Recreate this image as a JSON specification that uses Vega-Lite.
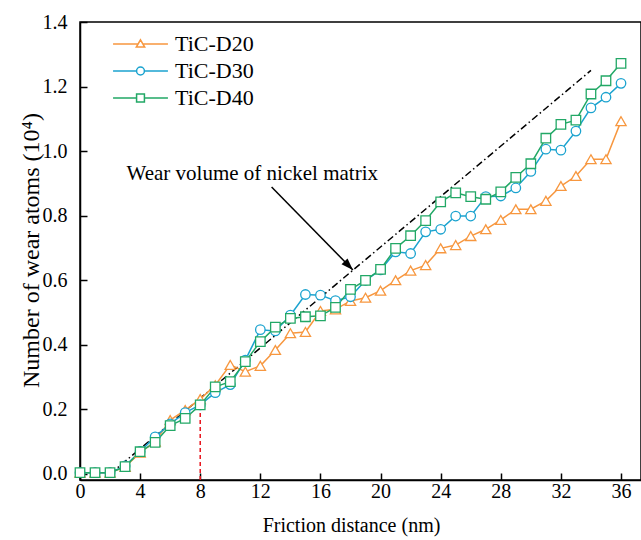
{
  "$schema": "https://vega.github.io/schema/vega-lite/v6.json",
  "width": 561,
  "height": 458,
  "autosize": "none",
  "padding": {"left": 80, "top": 22, "right": 0, "bottom": 60},
  "background": "white",
  "config": {
    "font": "Liberation Serif",
    "view": {"stroke": "black", "strokeWidth": 1.5},
    "axis": {
      "grid": false,
      "domainColor": "black",
      "domainWidth": 1.5,
      "tickColor": "black",
      "tickWidth": 1.5,
      "tickSize": -7,
      "labelColor": "black",
      "labelFontSize": 20,
      "labelFlush": false,
      "labelFont": "Liberation Serif",
      "titleFont": "Liberation Serif",
      "titleFontWeight": "normal",
      "titleColor": "black"
    }
  },
  "datasets": {
    "wear": [
      {"x": 0, "v": 0.004, "series": "TiC-D20"}, {"x": 1, "v": 0.004, "series": "TiC-D20"}, {"x": 2, "v": 0.004, "series": "TiC-D20"},
      {"x": 3, "v": 0.022, "series": "TiC-D20"}, {"x": 4, "v": 0.066, "series": "TiC-D20"}, {"x": 5, "v": 0.1, "series": "TiC-D20"},
      {"x": 6, "v": 0.167, "series": "TiC-D20"}, {"x": 7, "v": 0.198, "series": "TiC-D20"}, {"x": 8, "v": 0.232, "series": "TiC-D20"},
      {"x": 9, "v": 0.275, "series": "TiC-D20"}, {"x": 10, "v": 0.338, "series": "TiC-D20"}, {"x": 11, "v": 0.317, "series": "TiC-D20"},
      {"x": 12, "v": 0.335, "series": "TiC-D20"}, {"x": 13, "v": 0.384, "series": "TiC-D20"}, {"x": 14, "v": 0.436, "series": "TiC-D20"},
      {"x": 15, "v": 0.44, "series": "TiC-D20"}, {"x": 16, "v": 0.505, "series": "TiC-D20"}, {"x": 17, "v": 0.51, "series": "TiC-D20"},
      {"x": 18, "v": 0.536, "series": "TiC-D20"}, {"x": 19, "v": 0.546, "series": "TiC-D20"}, {"x": 20, "v": 0.568, "series": "TiC-D20"},
      {"x": 21, "v": 0.6, "series": "TiC-D20"}, {"x": 22, "v": 0.63, "series": "TiC-D20"}, {"x": 23, "v": 0.647, "series": "TiC-D20"},
      {"x": 24, "v": 0.699, "series": "TiC-D20"}, {"x": 25, "v": 0.709, "series": "TiC-D20"}, {"x": 26, "v": 0.737, "series": "TiC-D20"},
      {"x": 27, "v": 0.758, "series": "TiC-D20"}, {"x": 28, "v": 0.787, "series": "TiC-D20"}, {"x": 29, "v": 0.82, "series": "TiC-D20"},
      {"x": 30, "v": 0.82, "series": "TiC-D20"}, {"x": 31, "v": 0.846, "series": "TiC-D20"}, {"x": 32, "v": 0.892, "series": "TiC-D20"},
      {"x": 33, "v": 0.923, "series": "TiC-D20"}, {"x": 34, "v": 0.975, "series": "TiC-D20"}, {"x": 35, "v": 0.975, "series": "TiC-D20"},
      {"x": 36, "v": 1.093, "series": "TiC-D20"},
      {"x": 0, "v": 0.004, "series": "TiC-D30"}, {"x": 1, "v": 0.004, "series": "TiC-D30"}, {"x": 2, "v": 0.004, "series": "TiC-D30"},
      {"x": 3, "v": 0.025, "series": "TiC-D30"}, {"x": 4, "v": 0.07, "series": "TiC-D30"}, {"x": 5, "v": 0.115, "series": "TiC-D30"},
      {"x": 6, "v": 0.155, "series": "TiC-D30"}, {"x": 7, "v": 0.19, "series": "TiC-D30"}, {"x": 8, "v": 0.214, "series": "TiC-D30"},
      {"x": 9, "v": 0.252, "series": "TiC-D30"}, {"x": 10, "v": 0.277, "series": "TiC-D30"}, {"x": 11, "v": 0.353, "series": "TiC-D30"},
      {"x": 12, "v": 0.447, "series": "TiC-D30"}, {"x": 13, "v": 0.443, "series": "TiC-D30"}, {"x": 14, "v": 0.492, "series": "TiC-D30"},
      {"x": 15, "v": 0.556, "series": "TiC-D30"}, {"x": 16, "v": 0.554, "series": "TiC-D30"}, {"x": 17, "v": 0.537, "series": "TiC-D30"},
      {"x": 18, "v": 0.549, "series": "TiC-D30"}, {"x": 19, "v": 0.6, "series": "TiC-D30"}, {"x": 20, "v": 0.632, "series": "TiC-D30"},
      {"x": 21, "v": 0.688, "series": "TiC-D30"}, {"x": 22, "v": 0.683, "series": "TiC-D30"}, {"x": 23, "v": 0.75, "series": "TiC-D30"},
      {"x": 24, "v": 0.758, "series": "TiC-D30"}, {"x": 25, "v": 0.799, "series": "TiC-D30"}, {"x": 26, "v": 0.799, "series": "TiC-D30"},
      {"x": 27, "v": 0.859, "series": "TiC-D30"}, {"x": 28, "v": 0.861, "series": "TiC-D30"}, {"x": 29, "v": 0.886, "series": "TiC-D30"},
      {"x": 30, "v": 0.937, "series": "TiC-D30"}, {"x": 31, "v": 1.006, "series": "TiC-D30"}, {"x": 32, "v": 1.003, "series": "TiC-D30"},
      {"x": 33, "v": 1.062, "series": "TiC-D30"}, {"x": 34, "v": 1.134, "series": "TiC-D30"}, {"x": 35, "v": 1.167, "series": "TiC-D30"},
      {"x": 36, "v": 1.21, "series": "TiC-D30"},
      {"x": 0, "v": 0.004, "series": "TiC-D40"}, {"x": 1, "v": 0.004, "series": "TiC-D40"}, {"x": 2, "v": 0.004, "series": "TiC-D40"},
      {"x": 3, "v": 0.023, "series": "TiC-D40"}, {"x": 4, "v": 0.069, "series": "TiC-D40"}, {"x": 5, "v": 0.098, "series": "TiC-D40"},
      {"x": 6, "v": 0.15, "series": "TiC-D40"}, {"x": 7, "v": 0.172, "series": "TiC-D40"}, {"x": 8, "v": 0.214, "series": "TiC-D40"},
      {"x": 9, "v": 0.27, "series": "TiC-D40"}, {"x": 10, "v": 0.286, "series": "TiC-D40"}, {"x": 11, "v": 0.348, "series": "TiC-D40"},
      {"x": 12, "v": 0.41, "series": "TiC-D40"}, {"x": 13, "v": 0.455, "series": "TiC-D40"}, {"x": 14, "v": 0.482, "series": "TiC-D40"},
      {"x": 15, "v": 0.487, "series": "TiC-D40"}, {"x": 16, "v": 0.49, "series": "TiC-D40"}, {"x": 17, "v": 0.516, "series": "TiC-D40"},
      {"x": 18, "v": 0.572, "series": "TiC-D40"}, {"x": 19, "v": 0.6, "series": "TiC-D40"}, {"x": 20, "v": 0.634, "series": "TiC-D40"},
      {"x": 21, "v": 0.699, "series": "TiC-D40"}, {"x": 22, "v": 0.738, "series": "TiC-D40"}, {"x": 23, "v": 0.785, "series": "TiC-D40"},
      {"x": 24, "v": 0.843, "series": "TiC-D40"}, {"x": 25, "v": 0.871, "series": "TiC-D40"}, {"x": 26, "v": 0.859, "series": "TiC-D40"},
      {"x": 27, "v": 0.851, "series": "TiC-D40"}, {"x": 28, "v": 0.874, "series": "TiC-D40"}, {"x": 29, "v": 0.919, "series": "TiC-D40"},
      {"x": 30, "v": 0.961, "series": "TiC-D40"}, {"x": 31, "v": 1.04, "series": "TiC-D40"}, {"x": 32, "v": 1.083, "series": "TiC-D40"},
      {"x": 33, "v": 1.096, "series": "TiC-D40"}, {"x": 34, "v": 1.177, "series": "TiC-D40"}, {"x": 35, "v": 1.218, "series": "TiC-D40"},
      {"x": 36, "v": 1.272, "series": "TiC-D40"}
    ],
    "nickel": [{"x": 2, "v": 0}, {"x": 34, "v": 1.25}],
    "marker8": [{"x": 8, "v": -0.0186, "v2": 0.213}],
    "arrow": [{"x": 12.75, "v": 0.889, "x2": 18.16, "v2": 0.632}],
    "note": [{"x": 3.1, "v": 0.93, "label": "Wear volume of nickel matrix"}]
  },
  "layer": [
    {
      "data": {"name": "marker8"},
      "mark": {"type": "rule", "color": "#e8141c", "strokeWidth": 1.5, "strokeDash": [4, 3]},
      "encoding": {
        "x": {"field": "x", "type": "quantitative", "scale": {"domain": [0, 37.33], "nice": false, "zero": false},
          "axis": {
            "values": [0, 2, 4, 6, 8, 10, 12, 14, 16, 18, 20, 22, 24, 26, 28, 30, 32, 34, 36],
            "labelExpr": "datum.value % 4 == 0 ? datum.label : ''",
            "labelPadding": 8,
            "title": "Friction distance (nm)",
            "titleFontSize": 20,
            "titleAnchor": "middle",
            "titleX": 271,
            "titleY": 45,
            "titleBaseline": "middle"
          }},
        "y": {"field": "v", "type": "quantitative", "scale": {"domain": [-0.0186, 1.4], "nice": false, "zero": false},
          "axis": {
            "values": [0, 0.1, 0.2, 0.3, 0.4, 0.5, 0.6, 0.7, 0.8, 0.9, 1.0, 1.1, 1.2, 1.3, 1.4],
            "format": ".1f",
            "labelExpr": "round(datum.value * 10) % 2 == 0 ? datum.label : ''",
            "labelPadding": 20,
            "title": "Number of wear atoms (10⁴)",
            "titleFontSize": 24,
            "titleAngle": -90,
            "titleX": -49,
            "titleY": 228,
            "titleAnchor": "middle",
            "titleBaseline": "middle"
          }},
        "y2": {"field": "v2"}
      }
    },
    {
      "data": {"name": "nickel"},
      "mark": {"type": "line", "color": "black", "strokeWidth": 1.5, "strokeDash": [7, 3, 1.5, 3]},
      "encoding": {
        "x": {"field": "x", "type": "quantitative"},
        "y": {"field": "v", "type": "quantitative"}
      }
    },
    {
      "data": {"name": "wear"},
      "mark": {"type": "line", "strokeWidth": 1.5},
      "encoding": {
        "x": {"field": "x", "type": "quantitative"},
        "y": {"field": "v", "type": "quantitative"},
        "color": {
          "field": "series", "type": "nominal",
          "scale": {"domain": ["TiC-D20", "TiC-D30", "TiC-D40"], "range": ["#f7973f", "#1ba3cf", "#22a866"]},
          "legend": {
            "title": null,
            "orient": "none",
            "legendX": 45.5,
            "legendY": 7,
            "padding": 0,
            "symbolSize": 784,
            "symbolStrokeWidth": 1.5,
            "labelOffset": 19.5,
            "rowPadding": 1,
            "labelFontSize": 22,
            "labelFont": "Liberation Serif",
            "labelColor": "black",
            "encode": {
              "symbols": {
                "update": {
                  "shape": {"signal": "datum.value == 'TiC-D20' ? 'M-1.96,0H-0.17M0.17,0H1.96M0,-0.3L0.3,0.22L-0.3,0.22Z' : datum.value == 'TiC-D30' ? 'M-1.96,0H-0.28M0.28,0H1.96M0.28,0A0.28,0.28,0,1,1,-0.28,0A0.28,0.28,0,1,1,0.28,0Z' : 'M-1.96,0H-0.28M0.28,0H1.96M-0.28,-0.28H0.28V0.28H-0.28Z'"},
                  "fill": {"value": "white"},
                  "opacity": {"value": 1}
                }
              }
            }
          }
        }
      }
    },
    {
      "data": {"name": "wear"},
      "transform": [{"filter": "datum.series == 'TiC-D20'"}],
      "mark": {"type": "point", "shape": "triangle-up", "filled": false, "fill": "white", "size": 105, "strokeWidth": 1.3, "opacity": 1},
      "encoding": {
        "x": {"field": "x", "type": "quantitative"},
        "y": {"field": "v", "type": "quantitative"},
        "color": {"field": "series", "type": "nominal", "legend": null}
      }
    },
    {
      "data": {"name": "wear"},
      "transform": [{"filter": "datum.series == 'TiC-D30'"}],
      "mark": {"type": "point", "shape": "circle", "filled": false, "fill": "white", "size": 90, "strokeWidth": 1.3, "opacity": 1},
      "encoding": {
        "x": {"field": "x", "type": "quantitative"},
        "y": {"field": "v", "type": "quantitative"},
        "color": {"field": "series", "type": "nominal", "legend": null}
      }
    },
    {
      "data": {"name": "wear"},
      "transform": [{"filter": "datum.series == 'TiC-D40'"}],
      "mark": {"type": "point", "shape": "square", "filled": false, "fill": "white", "size": 90, "strokeWidth": 1.3, "opacity": 1},
      "encoding": {
        "x": {"field": "x", "type": "quantitative"},
        "y": {"field": "v", "type": "quantitative"},
        "color": {"field": "series", "type": "nominal", "legend": null}
      }
    },
    {
      "data": {"name": "arrow"},
      "mark": {"type": "rule", "color": "black", "strokeWidth": 1.5},
      "encoding": {
        "x": {"field": "x", "type": "quantitative"},
        "y": {"field": "v", "type": "quantitative"},
        "x2": {"field": "x2"},
        "y2": {"field": "v2"}
      }
    },
    {
      "data": {"name": "arrow"},
      "mark": {"type": "point", "shape": "M0,0L0.35,1L-0.35,1Z", "filled": true, "color": "black", "size": 576, "angle": 135.7, "opacity": 1},
      "encoding": {
        "x": {"field": "x2", "type": "quantitative"},
        "y": {"field": "v2", "type": "quantitative"}
      }
    },
    {
      "data": {"name": "note"},
      "mark": {"type": "text", "align": "left", "baseline": "middle", "font": "Liberation Serif", "fontSize": 21, "color": "black"},
      "encoding": {
        "x": {"field": "x", "type": "quantitative"},
        "y": {"field": "v", "type": "quantitative"},
        "text": {"field": "label"}
      }
    }
  ]
}
